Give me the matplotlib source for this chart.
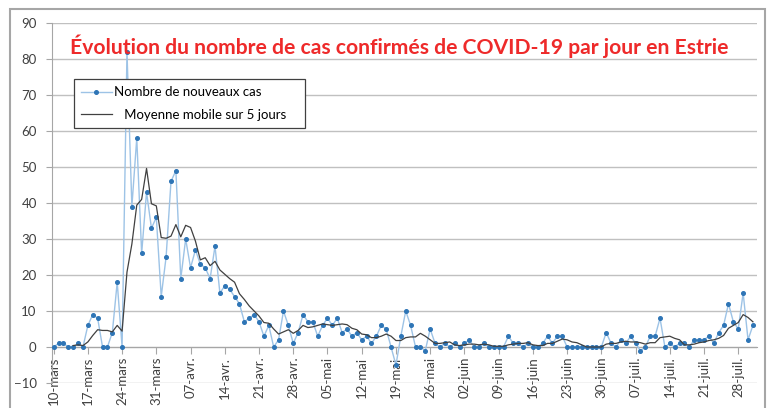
import numpy as np
import pandas as pd
import matplotlib
matplotlib.use('Agg')
import matplotlib.pyplot as plt
from matplotlib.patches import Rectangle

# nouveaux cas confirmés par jour (Estrie), du 10 mars au 31 juillet
cas_mars = [0, 1, 1, 0, 0, 1, 0, 6, 9, 8, 0, 0, 4, 18, 0, 82, 39, 58, 26, 43, 33, 36]
cas_avril = [14, 25, 46, 49, 19, 30, 22, 27, 23, 22,
             19, 28, 15, 17, 16, 14, 12, 7, 8, 9,
             7, 3, 6, 0, 2, 10, 6, 1, 4, 9]
cas_mai = [7, 7, 3, 6, 8, 6, 8, 4, 5, 3,
           4, 2, 3, 1, 3, 6, 5, 0, -5, 3,
           10, 6, 0, 0, -1, 5, 1, 0, 1, 0, 1]
cas_juin = [0, 1, 2, 0, 0, 1, 0, 0, 0, 0,
            3, 1, 1, 0, 1, 0, 0, 1, 3, 1,
            3, 3, 0, 0, 0, 0, 0, 0, 0, 0]
cas_juillet = [4, 1, 0, 2, 1, 3, 1, -1, 0, 3,
               3, 8, 0, 1, 0, 1, 1, 0, 2, 2,
               2, 3, 1, 4, 6, 12, 7, 5, 15, 2, 6]

tick_labels = ['10-mars', '17-mars', '24-mars', '31-mars', '07-avr.', '14-avr.',
               '21-avr.', '28-avr.', '05-mai', '12-mai', '19-mai', '26-mai',
               '02-juin', '09-juin', '16-juin', '23-juin', '30-juin',
               '07-juil.', '14-juil.', '21-juil.', '28-juil.']

cas = cas_mars + cas_avril + cas_mai + cas_juin + cas_juillet
jours = pd.date_range('2020-03-10', periods=len(cas), freq='D')
# moyenne mobile (5 derniers jours)
moyenne = pd.Series(cas, index=jours).rolling(5).mean()

plt.rcParams['font.family'] = ['Lato', 'DejaVu Sans']

W, H = 767, 408
fig = plt.figure(figsize=(W/100, H/100), dpi=100)
ax = fig.add_axes([52/W, 1-383/H, (757-52)/W, (383-23)/H])

# cadre gris autour du graphique
fig.patches.append(Rectangle((10/W, -0.05), (765-10)/W, 1-9/H+0.05,
                             transform=fig.transFigure, fill=False,
                             ec='#a6a6a6', lw=1.5))

ligne_cas, = ax.plot(jours, cas, color='#9dc3e6', lw=1.0, marker='o',
                     markersize=2.6, markerfacecolor='#2e75b6',
                     markeredgecolor='#2e75b6', zorder=3)
ligne_moy, = ax.plot(jours, moyenne, color='#404040', lw=0.9, zorder=4)

ax.set_ylim(-10, 90)
ax.set_yticks(np.arange(-10, 91, 10))
ax.set_xlim(jours[0] - pd.Timedelta(hours=8), jours[-1] + pd.Timedelta(hours=20))
ax.set_xticks(jours[::7])
ax.set_xticklabels(tick_labels)

ax.yaxis.grid(True, color='#c0c0c0', lw=1.0)
ax.set_axisbelow(True)
for s in ['top', 'right']:
    ax.spines[s].set_visible(False)
ax.spines['left'].set_color('#a6a6a6')
ax.spines['bottom'].set_color('#a6a6a6')
ax.spines['bottom'].set_position(('data', 0))

ax.tick_params(axis='y', direction='out', length=4, color='#a6a6a6',
               labelcolor='#404040', labelsize=9.5, pad=7)
ax.tick_params(axis='x', direction='out', length=5, color='#a6a6a6',
               labelcolor='#404040', labelsize=9.5, labelrotation=90, pad=2)

fig.text(399/W, 1-46/H,
         'Évolution du nombre de cas confirmés de COVID-19 par jour en Estrie',
         ha='center', va='center', color='#ee2a2a', fontsize=15.2,
         fontweight='bold')

leg = ax.legend([ligne_cas, ligne_moy],
                ['Nombre de nouveaux cas', '   Moyenne mobile sur 5 jours'],
                loc='upper left', bbox_to_anchor=(74/W, 1-79/H, (305-74)/W, 0),
                bbox_transform=fig.transFigure, mode='expand',
                fancybox=False, framealpha=1, edgecolor='#404040',
                fontsize=9.5, labelspacing=0.8, borderpad=0.55,
                handlelength=2.3, handletextpad=0.2, borderaxespad=0)
leg.get_frame().set_linewidth(0.9)

fig.savefig('out.png', dpi=100)
